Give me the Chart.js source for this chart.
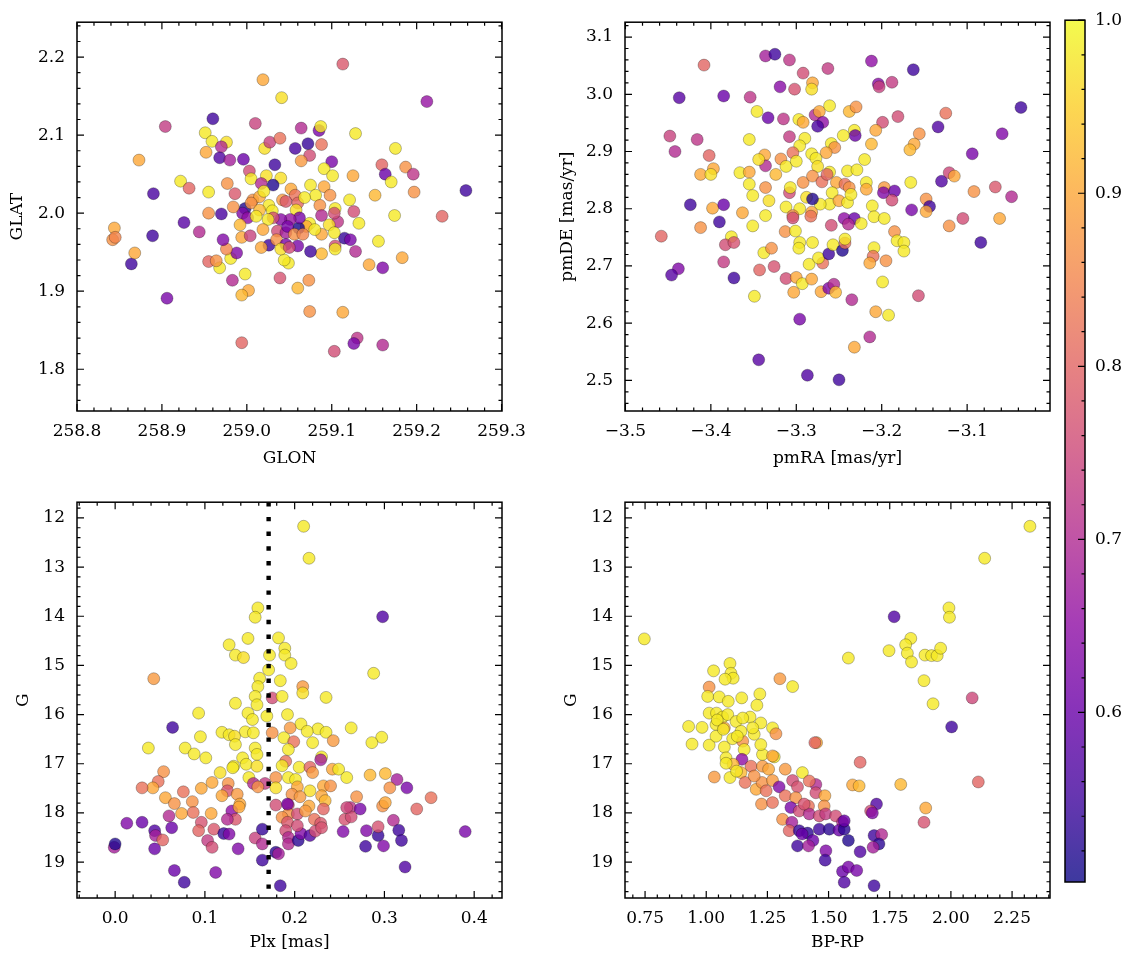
<!DOCTYPE html>
<html>
<head>
<meta charset="utf-8">
<script src="https://cdn.jsdelivr.net/npm/chart.js@4.4.1/dist/chart.umd.min.js"></script>
<style>
  body { margin: 0; background: #fff; }
  #fig { position: relative; width: 1133px; height: 965px; background: #fff; }
  #fig canvas { position: absolute; }
</style>
</head>
<body>
<div id="fig">
  <canvas id="pos" width="540" height="480" style="left:0;top:0"></canvas>
  <canvas id="pm" width="520" height="480" style="left:540px;top:0"></canvas>
  <canvas id="plx" width="540" height="485" style="left:0;top:480px"></canvas>
  <canvas id="cmd" width="520" height="485" style="left:540px;top:480px"></canvas>
  <canvas id="cbar" width="73" height="965" style="left:1060px;top:0"></canvas>
</div>
<script>
// data: [x, y, membership probability]

// GLON, GLAT
const posStars = [
  [258.960,2.121,0.55],[258.904,2.111,0.73],[259.010,2.115,0.74],[258.951,2.103,0.98],[258.959,2.092,0.98],
  [258.976,2.091,0.97],[258.952,2.078,0.9],[258.970,2.085,0.7],[258.968,2.071,0.57],[258.980,2.068,0.68],
  [258.996,2.069,0.6],[258.873,2.068,0.9],[259.021,2.083,0.97],[259.027,2.091,0.74],[259.039,2.096,0.82],
  [259.064,2.109,0.7],[259.085,2.106,0.62],[259.087,2.111,0.98],[259.057,2.083,0.56],[259.072,2.089,0.54],
  [259.088,2.088,0.82],[259.074,2.074,0.76],[259.064,2.067,0.88],[259.033,2.062,0.55],[259.128,2.102,0.98],
  [259.175,2.083,0.98],[259.100,2.066,0.62],[259.091,2.057,0.98],[259.101,2.048,0.98],[259.125,2.048,0.9],
  [259.159,2.062,0.8],[259.187,2.059,0.87],[259.196,2.050,0.72],[259.163,2.050,0.6],[259.170,2.040,0.98],
  [259.258,2.029,0.55],[259.197,2.027,0.87],[259.151,2.023,0.92],[259.121,2.017,0.98],[259.174,1.997,0.98],
  [259.230,1.996,0.8],[259.132,1.987,0.98],[259.126,2.002,0.76],[259.107,1.989,0.72],[259.155,1.964,0.98],
  [259.183,1.943,0.9],[259.144,1.934,0.9],[259.160,1.930,0.63],[259.128,1.951,0.7],[259.115,1.968,0.54],
  [259.122,1.966,0.62],[259.104,1.958,0.76],[259.104,1.954,0.98],[259.088,1.973,0.9],[259.088,1.948,0.92],
  [259.075,1.951,0.55],[259.049,1.936,0.98],[259.073,1.914,0.87],[259.060,1.904,0.92],[259.039,1.917,0.77],
  [259.026,1.959,0.55],[258.998,1.922,0.98],[258.983,1.914,0.7],[259.002,1.901,0.9],[258.994,1.895,0.92],
  [258.968,1.930,0.98],[258.955,1.938,0.8],[258.964,1.939,0.87],[258.981,1.942,0.98],[258.988,1.949,0.63],
  [258.976,1.954,0.85],[258.972,1.966,0.63],[258.994,1.969,0.9],[259.004,1.971,0.74],[258.944,1.976,0.7],
  [258.926,1.988,0.58],[258.955,2.000,0.87],[258.970,1.999,0.56],[258.998,2.006,0.52],[258.995,2.000,0.63],
  [259.001,1.994,0.65],[258.889,1.971,0.55],[258.864,1.935,0.55],[258.844,1.981,0.9],[258.842,1.966,0.87],
  [258.845,1.969,0.85],[258.868,1.949,0.9],[258.890,2.025,0.56],[258.922,2.041,0.98],[258.932,2.032,0.8],
  [258.955,2.027,0.98],[258.906,1.891,0.62],[258.994,1.834,0.8],[259.074,1.874,0.87],[259.113,1.873,0.9],
  [259.130,1.840,0.72],[259.126,1.833,0.62],[259.160,1.831,0.7],[259.103,1.823,0.76],[259.212,2.143,0.66],
  [259.113,2.191,0.78],[259.019,2.171,0.9],[259.041,2.148,0.97],
  [259.003,2.054,0.76],[259.005,2.044,0.98],[259.023,2.048,0.97],[259.040,2.045,0.97],[259.017,2.038,0.7],
  [259.031,2.036,0.52],[258.977,2.038,0.87],[258.986,2.025,0.78],[259.007,2.017,0.87],[259.015,2.021,0.9],
  [259.026,2.010,0.98],[259.042,2.017,0.88],[259.052,2.031,0.9],[259.057,2.023,0.82],[259.046,2.015,0.78],
  [259.060,2.013,0.8],[259.075,2.036,0.98],[259.081,2.023,0.98],[259.091,2.034,0.9],[259.098,2.023,0.87],
  [259.086,2.010,0.87],[259.104,2.006,0.98],[259.103,2.000,0.76],[259.088,1.997,0.7],[259.097,1.985,0.97],
  [259.103,1.975,0.98],[259.074,1.987,0.98],[259.070,1.983,0.9],[259.030,2.003,0.98],[259.058,2.004,0.97],
  [259.068,2.020,0.98],[259.020,2.028,0.98],[259.044,1.940,0.98],[259.061,1.981,0.51],[259.062,1.994,0.62],
  [259.051,1.992,0.66],[259.040,1.992,0.64],[259.031,1.994,0.76],[259.025,1.992,0.98],[259.019,1.979,0.9],
  [259.036,1.977,0.76],[259.046,1.975,0.68],[259.048,1.983,0.62],[259.056,1.973,0.87],[259.066,1.973,0.85],
  [259.080,1.979,0.98],[259.035,1.966,0.87],[259.046,1.960,0.62],[259.060,1.958,0.62],[259.017,1.956,0.9],
  [259.040,1.954,0.97],[259.050,1.956,0.76],[259.005,2.013,0.87],[259.015,2.004,0.92],[259.011,1.996,0.98],
  [258.984,2.008,0.87],[258.992,1.985,0.92]
];

// pmRA, pmDE
const pmStars = [
  [-3.336,3.067,0.68],[-3.325,3.070,0.55],[-3.308,3.060,0.72],[-3.292,3.037,0.76],[-3.263,3.045,0.73],
  [-3.212,3.058,0.65],[-3.163,3.043,0.55],[-3.408,3.051,0.8],[-3.437,2.994,0.58],[-3.385,2.997,0.6],
  [-3.354,2.995,0.72],[-3.319,3.013,0.64],[-3.302,3.009,0.77],[-3.281,3.020,0.9],[-3.282,3.009,0.97],
  [-3.204,3.018,0.64],[-3.203,3.013,0.74],[-3.188,3.021,0.73],[-3.037,2.977,0.55],[-3.448,2.927,0.74],
  [-3.442,2.900,0.7],[-3.416,2.921,0.72],[-3.402,2.893,0.8],[-3.397,2.870,0.9],[-3.412,2.860,0.9],
  [-3.400,2.860,0.97],[-3.346,2.970,0.98],[-3.333,2.959,0.6],[-3.315,2.957,0.72],[-3.297,2.956,0.98],
  [-3.292,2.951,0.9],[-3.278,2.964,0.7],[-3.273,2.970,0.9],[-3.269,2.951,0.65],[-3.275,2.944,0.56],
  [-3.261,2.980,0.98],[-3.238,2.970,0.92],[-3.230,2.978,0.87],[-3.199,2.951,0.76],[-3.181,2.961,0.76],
  [-3.125,2.967,0.82],[-3.134,2.943,0.57],[-3.059,2.931,0.63],[-3.094,2.896,0.62],[-3.207,2.937,0.9],
  [-3.156,2.931,0.87],[-3.162,2.913,0.9],[-3.167,2.903,0.92],[-3.212,2.913,0.92],[-3.220,2.886,0.98],
  [-3.232,2.937,0.98],[-3.231,2.928,0.6],[-3.245,2.928,0.98],[-3.308,2.926,0.73],[-3.290,2.923,0.98],
  [-3.355,2.921,0.98],[-3.296,2.910,0.98],[-3.259,2.914,0.98],[-3.255,2.907,0.87],[-3.265,2.898,0.9],
  [-3.282,2.896,0.98],[-3.304,2.898,0.82],[-3.337,2.894,0.9],[-3.318,2.887,0.87],[-3.336,2.875,0.7],
  [-3.324,2.860,0.92],[-3.344,2.886,0.97],[-3.312,2.874,0.98],[-3.300,2.883,0.98],[-3.277,2.888,0.98],
  [-3.275,2.874,0.97],[-3.261,2.864,0.98],[-3.366,2.863,0.98],[-3.355,2.864,0.9],[-3.355,2.843,0.98],
  [-3.336,2.837,0.87],[-3.351,2.823,0.98],[-3.332,2.814,0.97],[-3.363,2.793,0.9],[-3.398,2.801,0.9],
  [-3.385,2.807,0.6],[-3.424,2.807,0.55],[-3.240,2.866,0.98],[-3.229,2.868,0.98],[-3.292,2.846,0.87],
  [-3.281,2.857,0.87],[-3.270,2.847,0.82],[-3.264,2.860,0.8],[-3.253,2.846,0.9],[-3.243,2.843,0.82],
  [-3.238,2.837,0.87],[-3.308,2.828,0.76],[-3.218,2.846,0.98],[-3.218,2.834,0.9],[-3.197,2.837,0.88],
  [-3.198,2.828,0.63],[-3.185,2.831,0.6],[-3.188,2.815,0.76],[-3.166,2.846,0.98],[-3.130,2.848,0.57],
  [-3.121,2.863,0.75],[-3.115,2.857,0.9],[-3.067,2.838,0.78],[-3.092,2.830,0.87],[-3.048,2.821,0.7],
  [-3.148,2.817,0.87],[-3.144,2.804,0.55],[-3.165,2.798,0.62],[-3.148,2.795,0.9],[-3.105,2.783,0.76],
  [-3.062,2.783,0.9],[-3.244,2.783,0.65],[-3.232,2.783,0.6],[-3.312,2.803,0.98],[-3.296,2.800,0.98],
  [-3.261,2.808,0.98],[-3.282,2.794,0.9],[-3.304,2.788,0.87],[-3.336,2.788,0.98],[-3.211,2.805,0.98],
  [-3.307,2.837,0.98],[-3.288,2.820,0.97],[-3.272,2.808,0.98],[-3.258,2.828,0.98],[-3.250,2.814,0.9],
  [-3.240,2.811,0.98],[-3.236,2.825,0.98],[-3.281,2.817,0.52],
  [-3.458,2.752,0.8],[-3.412,2.767,0.87],[-3.390,2.777,0.55],[-3.351,2.770,0.98],[-3.304,2.784,0.76],
  [-3.283,2.787,0.82],[-3.259,2.771,0.76],[-3.239,2.773,0.7],[-3.224,2.774,0.98],[-3.209,2.786,0.98],
  [-3.197,2.783,0.98],[-3.121,2.770,0.87],[-3.084,2.741,0.55],[-3.313,2.760,0.87],[-3.301,2.761,0.98],
  [-3.376,2.751,0.98],[-3.383,2.737,0.76],[-3.373,2.741,0.77],[-3.385,2.707,0.73],[-3.438,2.695,0.63],
  [-3.446,2.684,0.58],[-3.373,2.679,0.55],[-3.343,2.693,0.8],[-3.326,2.699,0.77],[-3.338,2.723,0.98],
  [-3.329,2.731,0.87],[-3.349,2.647,0.98],[-3.312,2.678,0.76],[-3.300,2.680,0.9],[-3.293,2.669,0.98],
  [-3.282,2.677,0.9],[-3.303,2.654,0.9],[-3.296,2.741,0.98],[-3.297,2.731,0.98],[-3.281,2.741,0.98],
  [-3.285,2.703,0.98],[-3.269,2.705,0.82],[-3.274,2.714,0.98],[-3.262,2.721,0.55],[-3.257,2.737,0.98],
  [-3.246,2.727,0.52],[-3.243,2.740,0.82],[-3.243,2.747,0.98],[-3.271,2.655,0.9],[-3.262,2.661,0.63],
  [-3.256,2.668,0.7],[-3.254,2.654,0.92],[-3.235,2.641,0.7],[-3.209,2.732,0.98],[-3.210,2.717,0.82],
  [-3.214,2.705,0.9],[-3.195,2.709,0.87],[-3.185,2.760,0.87],[-3.182,2.744,0.98],[-3.174,2.741,0.98],
  [-3.174,2.726,0.98],[-3.199,2.672,0.98],[-3.157,2.648,0.76],[-3.207,2.620,0.9],[-3.192,2.614,0.98],
  [-3.214,2.576,0.7],[-3.232,2.558,0.9],[-3.296,2.607,0.62],[-3.344,2.536,0.58],[-3.287,2.509,0.57],
  [-3.250,2.501,0.55]
];

// Plx, G
const plxStars = [
  [0.210,12.17,0.98],[0.216,12.82,0.98],[0.298,14.01,0.57],[0.159,13.83,0.98],[0.156,14.02,0.98],
  [0.182,14.44,0.98],[0.148,14.45,0.98],[0.127,14.58,0.98],[0.134,14.79,0.98],[0.143,14.84,0.97],
  [0.189,14.65,0.98],[0.189,14.79,0.98],[0.196,14.96,0.98],[0.172,14.79,0.98],[0.171,15.09,0.98],
  [0.288,15.16,0.98],[0.043,15.27,0.88],[0.161,15.26,0.98],[0.184,15.31,0.98],[0.159,15.43,0.98],
  [0.209,15.43,0.88],[0.209,15.56,0.97],[0.175,15.66,0.76],[0.186,15.63,0.98],[0.235,15.65,0.98],
  [0.156,15.63,0.98],[0.134,15.77,0.98],[0.158,15.80,0.98],[0.093,15.97,0.98],[0.148,15.97,0.98],
  [0.192,16.00,0.98],[0.169,16.03,0.98],[0.153,16.10,0.98],[0.064,16.26,0.55],[0.207,16.19,0.98],
  [0.195,16.27,0.88],[0.226,16.29,0.98],[0.235,16.36,0.98],[0.263,16.27,0.98],[0.214,16.34,0.98],
  [0.175,16.37,0.87],[0.119,16.36,0.98],[0.127,16.41,0.98],[0.145,16.35,0.98],[0.154,16.37,0.98],
  [0.095,16.45,0.98],[0.188,16.47,0.98],[0.297,16.46,0.98],[0.286,16.57,0.98],[0.199,16.55,0.82],
  [0.220,16.57,0.98],[0.243,16.53,0.88],[0.037,16.68,0.98],[0.078,16.68,0.98],[0.088,16.80,0.98],
  [0.101,16.88,0.98],[0.133,16.44,0.97],[0.134,16.61,0.98],[0.156,16.68,0.98],[0.158,16.81,0.98],
  [0.142,16.88,0.98],[0.193,16.71,0.98],[0.230,16.86,0.98],[0.229,16.92,0.68],[0.190,16.95,0.82],
  [0.132,17.05,0.98],[0.146,17.01,0.98],[0.158,17.05,0.97],[0.186,17.04,0.98],[0.205,17.07,0.98],
  [0.217,17.07,0.8],[0.220,17.18,0.88],[0.242,17.11,0.9],[0.249,17.11,0.98],[0.258,17.28,0.98],
  [0.284,17.23,0.92],[0.301,17.20,0.92],[0.314,17.32,0.68],[0.325,17.49,0.62],[0.306,17.49,0.87],
  [0.352,17.69,0.82],[0.336,17.92,0.8],[0.269,17.67,0.87],[0.262,17.89,0.72],[0.273,17.92,0.62],
  [0.298,17.86,0.87],[0.301,17.79,0.9],[0.117,17.18,0.97],[0.131,17.08,0.98],[0.096,17.50,0.9],
  [0.108,17.38,0.9],[0.126,17.40,0.87],[0.125,17.55,0.77],[0.119,17.65,0.9],[0.136,17.62,0.88],
  [0.139,17.82,0.9],[0.149,17.28,0.98],[0.154,17.40,0.7],[0.167,17.40,0.73],[0.159,17.47,0.87],
  [0.179,17.28,0.87],[0.179,17.49,0.97],[0.193,17.28,0.98],[0.201,17.32,0.98],[0.203,17.47,0.9],
  [0.217,17.55,0.97],[0.232,17.45,0.9],[0.240,17.45,0.87],[0.197,17.62,0.87],[0.206,17.67,0.88],
  [0.230,17.65,0.9],[0.234,17.75,0.92],[0.216,17.86,0.9],[0.193,17.84,0.76],[0.179,17.84,0.76],
  [0.193,18.02,0.87],[0.203,18.02,0.76],[0.212,17.96,0.88],[0.232,17.92,0.8],[0.222,18.13,0.82],
  [0.229,18.21,0.78],[0.186,18.09,0.87],[0.192,18.19,0.78],[0.054,17.16,0.87],[0.048,17.36,0.82],
  [0.042,17.49,0.9],[0.030,17.49,0.82],[0.056,17.69,0.9],[0.076,17.57,0.82],[0.066,17.81,0.87],
  [0.074,18.01,0.9],[0.086,17.77,0.87],[0.087,17.99,0.82],[0.107,18.01,0.9],[0.130,17.96,0.65],
  [0.138,17.88,0.9],[0.134,18.13,0.78],[0.125,18.13,0.7],[0.096,18.19,0.77],[0.093,18.36,0.8],
  [0.110,18.33,0.78],[0.121,18.42,0.54],[0.127,18.43,0.63],[0.103,18.56,0.73],[0.108,18.70,0.76],
  [0.137,18.73,0.63],[0.156,18.51,0.74],[0.164,18.33,0.54],[0.164,18.63,0.7],[0.164,18.96,0.55],
  [0.179,18.80,0.53],[0.182,18.83,0.68],[0.184,19.48,0.55],[0.190,18.36,0.76],[0.193,18.50,0.7],
  [0.193,18.63,0.7],[0.204,18.56,0.53],[0.207,18.42,0.63],[0.217,18.46,0.57],[0.223,18.37,0.76],
  [0.230,18.30,0.77],[0.203,18.26,0.76],[0.192,17.82,0.62],[0.254,18.38,0.63],[0.256,18.13,0.77],
  [0.263,18.08,0.76],[0.258,17.89,0.75],[0.280,18.36,0.63],[0.279,18.68,0.55],[0.293,18.46,0.54],
  [0.293,18.28,0.77],[0.299,18.67,0.63],[0.310,18.15,0.7],[0.316,18.35,0.55],[0.319,18.56,0.55],
  [0.323,19.10,0.57],[0.390,18.38,0.62],[-0.001,18.70,0.68],[0.000,18.63,0.52],[0.013,18.21,0.63],
  [0.030,18.19,0.6],[0.044,18.36,0.57],[0.045,18.46,0.68],[0.044,18.73,0.6],[0.053,18.55,0.8],
  [0.060,18.06,0.7],[0.063,18.30,0.6],[0.066,19.17,0.6],[0.077,19.41,0.55],[0.112,19.21,0.63]
];

// BP-RP, G
const cmdStars = [
  [2.323,12.17,0.98],[2.138,12.82,0.98],[1.992,13.83,0.98],[1.994,14.02,0.98],[1.768,14.01,0.57],
  [0.747,14.46,0.98],[1.836,14.45,0.98],[1.815,14.58,0.98],[1.822,14.75,0.98],[1.839,14.93,0.98],
  [1.747,14.70,0.98],[1.894,14.79,0.98],[1.921,14.80,0.98],[1.944,14.80,0.98],[1.958,14.65,0.98],
  [1.581,14.85,0.98],[1.890,15.31,0.98],[1.927,15.78,0.98],[2.087,15.66,0.75],[2.003,16.25,0.55],
  [2.112,17.37,0.8],[1.897,17.90,0.9],[1.890,18.19,0.77],[1.795,17.42,0.92],[1.629,16.97,0.8],
  [1.598,17.43,0.9],[1.625,17.45,0.92],[1.451,16.57,0.9],[1.444,16.57,0.8],[1.301,15.27,0.88],
  [1.353,15.43,0.98],[1.097,14.96,0.98],[1.101,15.16,0.98],[1.110,15.26,0.98],[1.077,15.28,0.98],
  [1.030,15.11,0.98],[1.012,15.44,0.87],[1.006,15.63,0.98],[1.053,15.64,0.98],[1.090,15.73,0.98],
  [1.145,15.66,0.98],[1.219,15.58,0.98],[1.207,15.81,0.98],[1.012,15.97,0.98],[1.042,15.97,0.98],
  [1.067,16.05,0.98],[1.088,16.00,0.98],[0.928,16.24,0.98],[0.983,16.26,0.98],[1.040,16.20,0.98],
  [1.074,16.27,0.9],[1.122,16.14,0.98],[1.179,16.05,0.98],[1.223,16.17,0.98],[1.271,16.27,0.98],
  [1.285,16.39,0.87],[0.942,16.60,0.98],[1.012,16.62,0.98],[1.040,16.44,0.98],[1.074,16.66,0.98],
  [1.108,16.49,0.98],[1.149,16.54,0.87],[1.142,16.34,0.98],[1.196,16.40,0.98],[1.155,16.71,0.98],
  [1.146,16.91,0.65],[1.081,16.88,0.98],[1.110,17.01,0.92],[1.183,17.05,0.82],[1.230,17.05,0.88],
  [1.230,16.81,0.98],[1.278,16.86,0.98],[1.255,17.11,0.9],[1.323,17.11,0.88],[1.393,17.18,0.98],
  [1.033,17.27,0.88],[1.097,17.28,0.98],[1.142,17.18,0.92],[1.159,17.38,0.82],[1.204,17.52,0.9],
  [1.228,17.38,0.87],[1.245,17.55,0.82],[1.271,17.34,0.88],[1.298,17.47,0.63],[1.353,17.34,0.76],
  [1.373,17.47,0.77],[1.323,17.65,0.82],[1.226,17.82,0.87],[1.271,17.79,0.82],[1.366,17.69,0.87],
  [1.448,17.42,0.7],[1.448,17.59,0.76],[1.485,17.65,0.9],[1.482,17.86,0.87],[1.418,17.86,0.82],
  [1.346,17.89,0.62],[1.312,18.13,0.87],[1.380,17.96,0.76],[1.421,18.02,0.7],[1.462,18.06,0.76],
  [1.488,18.02,0.73],[1.529,18.06,0.76],[1.557,18.19,0.7],[1.350,18.19,0.68],[1.339,18.36,0.8],
  [1.380,18.36,0.54],[1.414,18.41,0.53],[1.392,18.43,0.6],[1.436,18.56,0.6],[1.462,18.33,0.55],
  [1.503,18.33,0.53],[1.543,18.35,0.6],[1.564,18.33,0.53],[1.564,18.16,0.6],[1.581,18.56,0.52],
  [1.489,18.77,0.63],[1.373,18.67,0.55],[1.418,18.67,0.68],[1.486,18.96,0.55],[1.629,18.79,0.57],
  [1.557,19.19,0.6],[1.581,19.10,0.62],[1.615,19.17,0.62],[1.564,19.41,0.57],[1.686,19.48,0.55],
  [1.696,17.82,0.57],[1.672,17.96,0.76],[1.679,18.00,0.63],[1.686,18.46,0.55],[1.717,18.44,0.7],
  [1.706,18.63,0.53],[1.682,18.70,0.68],[1.149,16.07,0.98],[1.190,16.27,0.98],[1.223,16.61,0.98],
  [1.271,16.84,0.9],[1.196,17.25,0.87],[1.421,17.35,0.82],[1.400,17.82,0.77],[1.081,16.99,0.98],
  [1.124,17.15,0.98],[1.045,16.11,0.98],[1.070,16.30,0.98],[1.127,16.44,0.98]
];

const plxCut = 0.171;          // dotted line in the Plx panel
const probMin = 0.502, probMax = 1.0;
const cbarTicks = [0.6, 0.7, 0.8, 0.9, 1.0];

// plasma colormap
const plasma = ['#0d0887','#41049d','#6a00a8','#8f0da4','#b12a90','#cc4778',
                '#e16462','#f2844b','#fca636','#fcce25','#f0f921'];

function hexRgb(h) {
  return [parseInt(h.slice(1, 3), 16), parseInt(h.slice(3, 5), 16), parseInt(h.slice(5, 7), 16)];
}

function cmap(p, alpha) {
  let t = (p - probMin) / (probMax - probMin);
  t = Math.max(0, Math.min(1, t)) * (plasma.length - 1);
  const i = Math.min(Math.floor(t), plasma.length - 2), f = t - i;
  const a = hexRgb(plasma[i]), b = hexRgb(plasma[i + 1]);
  const c = a.map((v, k) => Math.round(v + (b[k] - v) * f));
  return `rgba(${c[0]},${c[1]},${c[2]},${alpha})`;
}

Chart.defaults.font.family = 'DejaVu Serif';
Chart.defaults.font.size = 17;
Chart.defaults.color = '#000';

function stepVals(scale, step) {
  const lo = Math.min(scale.min, scale.max), hi = Math.max(scale.min, scale.max);
  const out = [];
  for (let k = Math.ceil(lo / step - 1e-6); k <= Math.floor(hi / step + 1e-6); k++) out.push(k * step);
  return out;
}

// inward ticks on every side + frame
const frameTicks = {
  id: 'frameTicks',
  afterDatasetsDraw(chart, args, opts) {
    const {ctx, chartArea: a, scales} = chart;
    ctx.save();
    ctx.strokeStyle = '#000';
    ctx.lineWidth = 1.2;
    ctx.beginPath();
    for (const s of Object.values(scales)) {
      if (!s.options.display) continue;
      const major = s.options.ticks.stepSize;
      for (const [vals, len] of [[stepVals(s, major / 5), 3.5], [stepVals(s, major), 7]]) {
        for (const v of vals) {
          const p = s.getPixelForValue(v);
          if (s.isHorizontal()) {
            ctx.moveTo(p, a.bottom); ctx.lineTo(p, a.bottom - len);
            ctx.moveTo(p, a.top); ctx.lineTo(p, a.top + len);
          } else {
            if (!opts.rightOnly) { ctx.moveTo(a.left, p); ctx.lineTo(a.left + len, p); }
            ctx.moveTo(a.right, p); ctx.lineTo(a.right - len, p);
          }
        }
      }
    }
    ctx.stroke();
    ctx.lineWidth = 1.5;
    ctx.strokeRect(a.left, a.top, a.width, a.height);
    ctx.restore();
  }
};

function fmt(d) {
  return v => Number(v).toFixed(d).replace('-', '\u2212');
}

function axis(o) {
  return {
    type: 'linear',
    position: o.position,
    min: o.min, max: o.max,
    reverse: !!o.reverse,
    afterFit: s => { if (s.isHorizontal()) s.height = o.size; else s.width = o.size; },
    grid: {display: false, drawTicks: false},
    border: {display: false},
    ticks: {stepSize: o.step, includeBounds: false, padding: o.tickPad, maxRotation: 0,
            autoSkip: false, callback: fmt(o.dec)},
    title: {display: !!o.title, text: o.title, padding: o.titlePad}
  };
}

function makePanel(id, rows, xo, yo, pad, extra) {
  const datasets = [{
    type: 'scatter',
    data: rows.map(r => ({x: r[0], y: r[1]})),
    backgroundColor: rows.map(r => cmap(r[2], 0.8)),
    borderColor: 'rgba(0,0,0,0.45)',
    borderWidth: 0.6,
    pointRadius: 6,
    pointHoverRadius: 6,
    order: 1
  }];
  if (extra) datasets.push(extra);
  return new Chart(document.getElementById(id), {
    type: 'scatter',
    data: {datasets},
    options: {
      responsive: false,
      animation: false,
      layout: {padding: pad},
      plugins: {legend: {display: false}, tooltip: {enabled: false}},
      scales: {
        x: axis(Object.assign({position: 'bottom', tickPad: 10, titlePad: {top: 0, bottom: 11}}, xo)),
        y: axis(Object.assign({position: 'left', tickPad: 12}, yo))
      }
    },
    plugins: [frameTicks]
  });
}

const topPad = {left: 0, top: 15, bottom: 0};
const botPad = {left: 0, top: 20, bottom: 0};

makePanel('pos', posStars,
  {min: 258.8, max: 259.3005, step: 0.1, dec: 1, size: 69, title: 'GLON'},
  {min: 1.7465, max: 2.2447, step: 0.1, dec: 1, size: 77, title: 'GLAT', titlePad: {top: 7, bottom: 0}},
  Object.assign({right: 38}, topPad));

makePanel('pm', pmStars,
  {min: -3.5005, max: -3.003, step: 0.1, dec: 1, size: 69, title: 'pmRA [mas/yr]'},
  {min: 2.4465, max: 3.126, step: 0.1, dec: 1, size: 85, title: 'pmDE [mas/yr]', titlePad: {top: 17, bottom: 0}},
  Object.assign({right: 10}, topPad));

const gMin = 11.68, gMax = 19.73;

makePanel('plx', plxStars,
  {min: -0.0425, max: 0.431, step: 0.1, dec: 1, size: 67, title: 'Plx [mas]', titlePad: {top: 0, bottom: 12}},
  {min: gMin, max: gMax, step: 1, dec: 0, size: 77, reverse: true, title: 'G', titlePad: {top: 13, bottom: 0}},
  Object.assign({right: 38}, botPad),
  {
    type: 'line',
    data: [{x: plxCut, y: gMin}, {x: plxCut, y: gMax}],
    borderColor: '#000',
    borderWidth: 4.4,
    borderDash: [4.4, 10.3],
    borderCapStyle: 'butt',
    pointRadius: 0,
    order: 0
  });

makePanel('cmd', cmdStars,
  {min: 0.668, max: 2.405, step: 0.25, dec: 2, size: 67, title: 'BP-RP', titlePad: {top: 0, bottom: 12}},
  {min: gMin, max: gMax, step: 1, dec: 0, size: 85, reverse: true, title: 'G', titlePad: {top: 21, bottom: 0}},
  Object.assign({right: 10}, botPad));

// colorbar
const cbarFill = {
  id: 'cbarFill',
  beforeDatasetsDraw(chart) {
    const {ctx, chartArea: a, scales: {y}} = chart;
    const g = ctx.createLinearGradient(0, y.getPixelForValue(probMin), 0, y.getPixelForValue(probMax));
    plasma.forEach((c, i) => g.addColorStop(i / (plasma.length - 1), cmap(probMin + (probMax - probMin) * i / (plasma.length - 1), 0.8)));
    ctx.save();
    ctx.fillStyle = g;
    ctx.fillRect(a.left, a.top, a.width, a.height);
    ctx.restore();
  }
};

new Chart(document.getElementById('cbar'), {
  type: 'scatter',
  data: {datasets: [{data: []}]},
  options: {
    responsive: false,
    animation: false,
    layout: {padding: {left: 5, top: 15, bottom: 83, right: 0}},
    plugins: {legend: {display: false}, tooltip: {enabled: false}, frameTicks: {rightOnly: true}},
    scales: {
      x: {display: false},
      y: Object.assign(axis({position: 'right', min: probMin, max: probMax, step: 0.1, dec: 1, size: 48, tickPad: 10}),
        {afterBuildTicks: s => { s.ticks = cbarTicks.map(v => ({value: v})); }})
    }
  },
  plugins: [cbarFill, frameTicks]
});
</script>
</body>
</html>
